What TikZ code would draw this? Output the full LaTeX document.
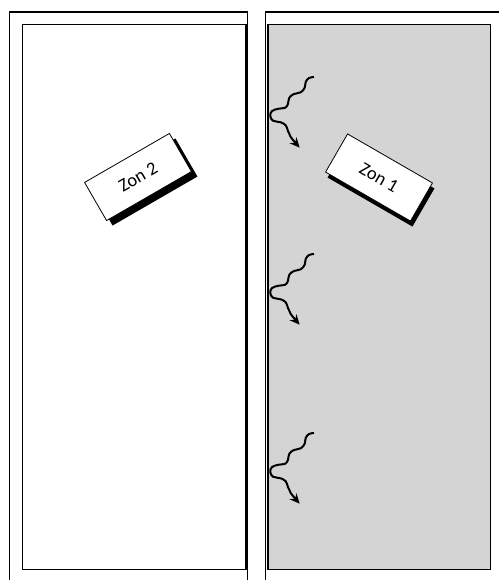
\documentclass[tikz,border=0pt]{standalone}
\usepackage{fontspec}
\setmainfont{Carlito}
\usetikzlibrary{arrows.meta}
\begin{document}
\begin{tikzpicture}[x=1pt,y=-1pt,
  frame/.style={line width=1.3pt, draw=black},
  zonebox/.style={draw=black, line width=0.8pt, fill=white, minimum width=98pt, minimum height=44pt, inner sep=0pt, font=\fontsize{18.5}{20}\selectfont},
  zoneshadow/.style={fill=black},
  wave/.style={line width=2pt, -{Stealth[length=10pt,width=9pt]}}]
\useasboundingbox (0,0) rectangle (498,580);
\fill[white] (0,0) rectangle (498,580);
% left panel
\draw[frame] (9.5,582) -- (9.5,12) -- (247.5,12) -- (247.5,582);
\draw[frame] (22.7,24.3) rectangle (246,569.3);
% right panel
\draw[frame] (499,12) -- (265.7,12) -- (265.7,582);
\draw[frame, fill={rgb,255:red,212;green,212;blue,212}] (268,24.3) rectangle (490.7,569.3);
% zone labels with shadows
\fill[zoneshadow, shift={(144,182)}, rotate=30] (-49,-22) rectangle (49,22);
\node[zonebox, rotate=30] (z2) at (138,177) {Zon 2};
\fill[zoneshadow, shift={(381,183)}, rotate=-30] (-49,-22) rectangle (49,22);
\node[zonebox, rotate=-30] (z1) at (379,177.5) {Zon 1};
% wavy arrows
\foreach \yy/\nm in {0/a,177/b,356/c}{
  \coordinate (w\nm) at (314,77+\yy);
  \draw[wave, shift={(w\nm)}] plot[smooth, tension=0.65] coordinates {(0,0) (-5,1) (-8.3,5) (-9.3,10.7) (-13.3,15.3) (-20,17) (-24.7,20.7) (-26,26.7) (-28.7,30.7) (-35.3,31.7) (-42,34) (-43.7,39) (-41,43.7) (-33.3,45.3) (-28.3,48.3) (-26,54) (-23.3,60) (-14.3,70.7)};
}
\end{tikzpicture}
\end{document}
